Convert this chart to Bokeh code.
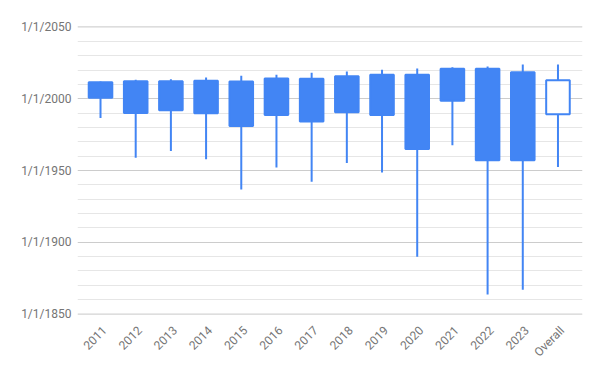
import math
from bokeh.plotting import figure
from bokeh.models import ColumnDataSource, Range1d, FixedTicker, LinearAxis, Span
from bokeh.embed import file_html
from bokeh.resources import INLINE

# Data (decimal years)
categories = ["2011", "2012", "2013", "2014", "2015", "2016", "2017",
              "2018", "2019", "2020", "2021", "2022", "2023", "Overall"]
low_vals   = [1986.5, 1958.8, 1963.6, 1957.8, 1936.8, 1952.1, 1942.1,
              1955.3, 1948.6, 1890.0, 1967.6, 1863.6, 1866.9, 1952.5]
open_vals  = [2011.5, 2012.2, 2012.2, 2012.5, 2012.0, 2014.1, 2013.9,
              2015.7, 2016.7, 2016.7, 2020.8, 2020.8, 2018.5, 1989.1]
close_vals = [2000.7, 1990.0, 1991.9, 1989.8, 1981.0, 1988.6, 1984.2,
              1990.5, 1988.6, 1965.0, 1998.6, 1957.2, 1957.2, 2012.9]
high_vals  = [2012.0, 2013.2, 2013.6, 2014.8, 2016.0, 2016.7, 2018.1,
              2019.0, 2020.1, 2021.0, 2021.9, 2022.4, 2023.8, 2023.8]
y_tick_years = [1850, 1900, 1950, 2000, 2050]
y_minor_years = [1860, 1870, 1880, 1890, 1910, 1920, 1930, 1940,
                 1960, 1970, 1980, 1990, 2010, 2020, 2030, 2040]

BLUE = "#4285f4"
TEXT = "#757575"
xs = list(range(len(categories)))
tops = [max(o, c) for o, c in zip(open_vals, close_vals)]
bots = [min(o, c) for o, c in zip(open_vals, close_vals)]
fills = [BLUE if o > c else "white" for o, c in zip(open_vals, close_vals)]

src = ColumnDataSource(dict(x=xs, low=low_vals, high=high_vals,
                            top=tops, bottom=bots, fill=fills))

X0, X1 = -0.654, 13.697
p = figure(width=600, height=371, output_backend="svg", toolbar_location=None,
           x_range=Range1d(X0, X1), y_range=Range1d(1849.7, 2050.3),
           min_border_left=77, min_border_right=18,
           min_border_top=26, min_border_bottom=57)
p.outline_line_color = None
p.background_fill_color = "white"

# make sure the outer gridlines (top and baseline) are drawn
for yv in (y_tick_years[0], y_tick_years[-1]):
    p.add_layout(Span(location=yv, dimension="width", line_color="#cccccc",
                      line_width=1, level="underlay"))

p.segment(x0="x", y0="low", x1="x", y1="high", source=src,
          line_color=BLUE, line_width=2)
p.vbar(x="x", top="top", bottom="bottom", width=0.67, source=src,
       fill_color="fill", line_color=BLUE, line_width=2)

# Category axis on a slightly shifted range so rotated labels sit like the reference
SHIFT = 0.12
p.extra_x_ranges = {"labels": Range1d(X0 - SHIFT, X1 - SHIFT)}
p.xaxis.visible = False
cat_axis = LinearAxis(x_range_name="labels", ticker=FixedTicker(ticks=xs))
cat_axis.major_label_overrides = {i: c for i, c in enumerate(categories)}
cat_axis.major_label_orientation = math.pi / 4
cat_axis.axis_line_color = None
cat_axis.major_tick_line_color = None
cat_axis.minor_tick_line_color = None
cat_axis.major_label_text_font = "Roboto"
cat_axis.major_label_text_font_size = "12px"
cat_axis.major_label_text_color = TEXT
cat_axis.major_label_standoff = 8
p.add_layout(cat_axis, "below")

p.yaxis.ticker = FixedTicker(ticks=y_tick_years, minor_ticks=y_minor_years)
p.yaxis.major_label_overrides = {y: "1/1/%d" % y for y in y_tick_years}
p.yaxis.axis_line_color = None
p.yaxis.major_tick_line_color = None
p.yaxis.minor_tick_line_color = None
p.yaxis.major_label_text_font = "Roboto"
p.yaxis.major_label_text_font_size = "12px"
p.yaxis.major_label_text_color = TEXT
p.yaxis.major_label_standoff = 0

p.xgrid.grid_line_color = None
p.ygrid.grid_line_color = "#cccccc"
p.ygrid.grid_line_width = 1
p.ygrid.minor_grid_line_color = "#e6e6e6"
p.ygrid.minor_grid_line_width = 1

open("out.html", "w").write(file_html(p, INLINE))
